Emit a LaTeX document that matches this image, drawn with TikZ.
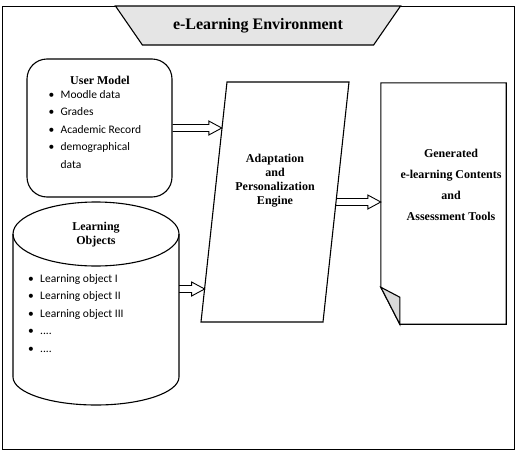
\documentclass[tikz,border=0pt]{standalone}
\usepackage{fontspec}
\setmainfont{Liberation Serif}
\newfontfamily\calibri{Carlito}
\usetikzlibrary{positioning, shapes.geometric, calc}

% hollow double-lined arrow, drawn level with its start
\newcommand{\fatarrow}[2]{%
  \draw[fat] let \p1=(#1), \p2=(#2) in
    (\x1,\y1+3.5pt) -- (\x2-13pt,\y1+3.5pt) -- (\x2-13pt,\y1+7pt) -- (\x2,\y1)
    -- (\x2-13pt,\y1-7pt) -- (\x2-13pt,\y1-3.5pt) -- (\x1,\y1-3.5pt);}

\begin{document}
\begin{tikzpicture}[x=1pt, y=-1pt,
  box/.style={draw, line width=1.1pt},
  heading/.style={font=\fontsize{12}{14}\selectfont\bfseries, align=center},
  items/.style={font=\calibri\fontsize{11.5}{17.5}\selectfont, inner sep=0pt, anchor=base west},
  fat/.style={draw, line width=0.9pt, line join=miter}
]
\useasboundingbox (0,0) rectangle (519,458);

% Environment frame and banner
\node[draw, line width=1.4pt, minimum width=512, minimum height=443, anchor=north west] (env) at (2,6) {};
\node[box, trapezium, shape border rotate=180, trapezium angle=46, trapezium stretches=true,
      minimum width=286, minimum height=39, fill=gray!20,
      font=\fontsize{16}{18}\selectfont\bfseries] (banner) at (258,25.5) {e-Learning Environment};

% User model
\node[box, rounded corners=20pt, minimum width=145, minimum height=138] (um) at (99.5,128) {};
\node[heading, anchor=base] (umtitle) at (100,84) {User Model};
\node[items] (umlist) at (48.5,98) {\begin{tabular}[t]{@{}p{12pt}@{}l@{}}
  \textbullet & Moodle data\\
  \textbullet & Grades\\
  \textbullet & Academic Record\\
  \textbullet & demographical\\
              & data
\end{tabular}};

% Learning objects (cylinder)
\draw[box] (13,234) -- (13,377) arc[start angle=180, end angle=360, x radius=83pt, y radius=28pt] -- (179,234);
\draw[box] (96,234) ellipse [x radius=83pt, y radius=32pt];
\node[heading] (lotitle) at (96,235) {Learning\\Objects};
\node[items] (lolist) at (28,282) {\begin{tabular}[t]{@{}p{12pt}@{}l@{}}
  \textbullet & Learning object I\\
  \textbullet & Learning object II\\
  \textbullet & Learning object III\\
  \textbullet & ....\\
  \textbullet & ....
\end{tabular}};
\coordinate (loout) at (179,289);

% Engine (slanted box)
\coordinate (eng-sw) at (201,322);
\coordinate (eng-nw) at (227,82);
\coordinate (eng-ne) at (349,82);
\coordinate (eng-se) at (323,322);
\draw[box] (eng-sw) -- (eng-nw) -- (eng-ne) -- (eng-se) -- cycle;
\node[heading] (engtext) at (275,181) {Adaptation\\and\\Personalization\\Engine};

% Generated document
\node[minimum width=125, minimum height=241] (doc) at (443.5,203.5) {};
\draw[box] (doc.north west) -- (doc.north east) -- (doc.south east) -- ([xshift=19pt]doc.south west)
  -- ([yshift=37pt]doc.south west) -- cycle;
\draw[box, fill=gray!30] ([yshift=37pt]doc.south west) -- ([xshift=19pt,yshift=27pt]doc.south west)
  -- ([xshift=19pt]doc.south west) -- cycle;
\node[heading, font=\fontsize{12}{21}\selectfont\bfseries] (doctext) at (451,185)
  {Generated\\e-learning Contents\\and\\Assessment Tools};

% Arrows
\coordinate (umin) at ($(eng-sw)!0.8!(eng-nw)$);
\coordinate (loin) at ($(eng-sw)!0.14!(eng-nw)$);
\coordinate (engout) at ($(eng-se)!0.5!(eng-ne)$);
\fatarrow{um.east}{umin}
\fatarrow{loout}{loin}
\fatarrow{engout}{doc.west}
\end{tikzpicture}
\end{document}
